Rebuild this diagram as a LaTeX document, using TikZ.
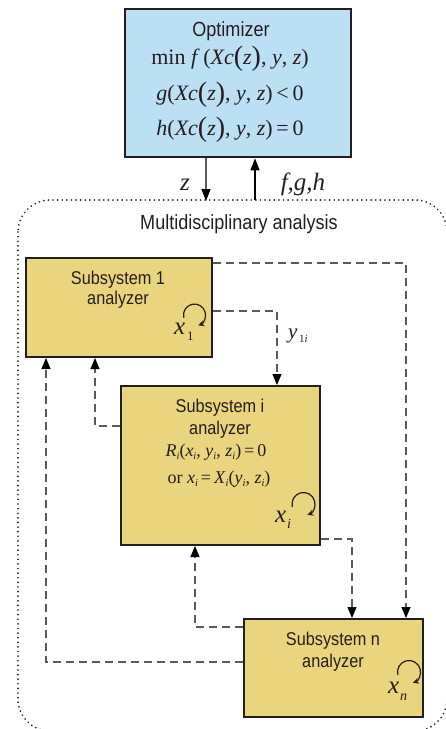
\documentclass[tikz,border=0pt]{standalone}
\usepackage{fontspec}
\setmainfont[FakeStretch=0.88]{Liberation Sans}
\newfontfamily\tms{Liberation Serif}
\usetikzlibrary{arrows.meta,calc}
\definecolor{optblue}{HTML}{BCE0F3}
\definecolor{subyellow}{HTML}{E9D57E}
\definecolor{boxline}{HTML}{231F20}
\definecolor{txt}{HTML}{231F20}
\definecolor{dashgray}{HTML}{5A5A5A}
\newcommand{\iv}[1]{\textit{#1}}
\newcommand{\bigp}[1]{{\fontsize{28}{28}\selectfont\raisebox{-1.5pt}{#1}}}
\newcommand{\sbi}{\raisebox{-3.5pt}{\fontsize{10.5}{10.5}\selectfont\textit{i}}}
\begin{document}
\begin{tikzpicture}[x=1pt,y=-1pt,
  optbox/.style={draw=boxline,line width=2.6pt,fill=optblue,minimum width=226pt,minimum height=148pt,inner sep=0pt},
  subbox/.style={draw=boxline,line width=2pt,fill=subyellow,inner sep=0pt},
  sans/.style={font=\fontsize{18.5}{20}\selectfont,text=txt,anchor=base,inner sep=0pt},
  bigsans/.style={font=\fontsize{20.5}{22}\selectfont,text=txt,anchor=base,inner sep=0pt},
  optmath/.style={font=\tms\fontsize{22}{23}\selectfont,text=txt,anchor=base,inner sep=0pt},
  submath/.style={font=\tms\fontsize{18}{19}\selectfont,text=txt,anchor=base,inner sep=0pt},
  varlbl/.style={font=\tms\itshape\fontsize{25}{26}\selectfont,text=txt,anchor=base west,inner sep=0pt},
  sublbl/.style={font=\tms\fontsize{13}{14}\selectfont,text=txt,anchor=base west,inner sep=0pt},
  dline/.style={draw=dashgray,line width=1.1pt,dash pattern=on 8pt off 5pt,-{Triangle[length=11pt,width=9pt,color=black]}},
  loopst/.style={draw=boxline,line width=1.2pt,-{Stealth[length=6pt,width=6pt]}},
  frame/.style={draw=boxline,line width=1.9pt,dash pattern=on 0.01pt off 4.6pt,line cap=round,rounded corners=32pt}
]
\useasboundingbox (0,0) rectangle (446,729);
\begin{scope}
\clip (0,0) rectangle (446,729);
\draw[frame] (18,200) rectangle (447,731);
\end{scope}

% Optimizer
\node[optbox] (opt) at (238,83) {};
\node[bigsans] (optt) at (231,36) {Optimizer};
\node[optmath] (l1) at (230,64) {min \iv{f}\,(\iv{Xc}\bigp{(}\iv{z}\bigp{)}, \iv{y}, \iv{z})};
\node[optmath] (l2) at (230,100) {\iv{g}(\iv{Xc}\bigp{(}\iv{z}\bigp{)}, \iv{y}, \iv{z})\,<\,0};
\node[optmath] (l3) at (230,135) {\iv{h}(\iv{Xc}\bigp{(}\iv{z}\bigp{)}, \iv{y}, \iv{z})\,=\,0};

\coordinate (zend) at (206,201);
\coordinate (fstart) at (255,200);
\draw[draw=dashgray,line width=1.1pt,-{Triangle[length=12pt,width=9pt,color=black]}] (opt.south -| zend) -- (zend);
\draw[draw=black,line width=1.1pt,-{Triangle[length=12pt,width=9pt]}] (fstart) -- (opt.south -| fstart);
\node[varlbl,anchor=base] (zl) at (185,190) {z};
\node[varlbl,anchor=base] (fgh) at (303,190) {f,g,h};

\node[bigsans] (mda) at (239,229) {Multidisciplinary analysis};

% Subsystems
\node[subbox,minimum width=186pt,minimum height=99pt] (s1) at (119,307.5) {};
\node[sans] (s1a) at (118,284) {Subsystem 1};
\node[sans] (s1b) at (118,304) {analyzer};
\node[varlbl] (x1) at (174,334) {x};
\node[sublbl] (x1s) at (187,340) {1};
\draw[loopst] (194.5,315) ++(-195:11) arc[start angle=-195,end angle=70,radius=11];

\node[subbox,minimum width=199pt,minimum height=159pt] (si) at (220.5,465.5) {};
\node[sans] (sia) at (220,412) {Subsystem i};
\node[sans] (sib) at (220,434) {analyzer};
\node[submath] (sic) at (216,456) {\iv{R}\sbi(\iv{x}\sbi, \iv{y}\sbi, \iv{z}\sbi)\,=\,0};
\node[submath] (sid) at (219,483) {or \iv{x}\sbi\,=\,\iv{X}\sbi(\iv{y}\sbi, \iv{z}\sbi)};
\node[varlbl] (xi) at (275,522) {x};
\node[sublbl,font=\tms\itshape\fontsize{14}{14}\selectfont] (xis) at (287,528) {i};
\draw[loopst] (303.5,504) ++(-195:11.5) arc[start angle=-195,end angle=70,radius=11.5];

\node[subbox,minimum width=179pt,minimum height=98pt] (sn) at (333.5,668) {};
\node[sans] (sna) at (333,645) {Subsystem n};
\node[sans] (snb) at (333,667) {analyzer};
\node[varlbl] (xn) at (388,693) {x};
\node[sublbl,font=\tms\itshape\fontsize{14}{14}\selectfont] (xns) at (400,700) {n};
\draw[loopst] (409,672) ++(-195:11.5) arc[start angle=-195,end angle=70,radius=11.5];

% y_1i label
\node[varlbl,font=\tms\itshape\fontsize{21}{22}\selectfont] (y1) at (288,338) {y};
\node[sublbl,font=\tms\fontsize{11}{11}\selectfont] (y1s) at (299,342) {1\iv{i}};

% dashed connectors
\draw[dline] ([yshift=-6pt]s1.north east) -| ([xshift=-18pt]sn.north east);
\draw[dline] ([yshift=-54pt]s1.north east) -| ([xshift=-44pt]si.north east);
\draw[dline] ([yshift=-41pt]si.north west) -| ([xshift=70pt]s1.south west);
\draw[dline] ([yshift=-44pt]sn.north west) -| ([xshift=21pt]s1.south west);
\draw[dline] ([yshift=7pt]si.south east) -| ([xshift=109pt]sn.north west);
\draw[dline] ([yshift=-9pt]sn.north west) -| ([xshift=75pt]si.south west);
\end{tikzpicture}
\end{document}
